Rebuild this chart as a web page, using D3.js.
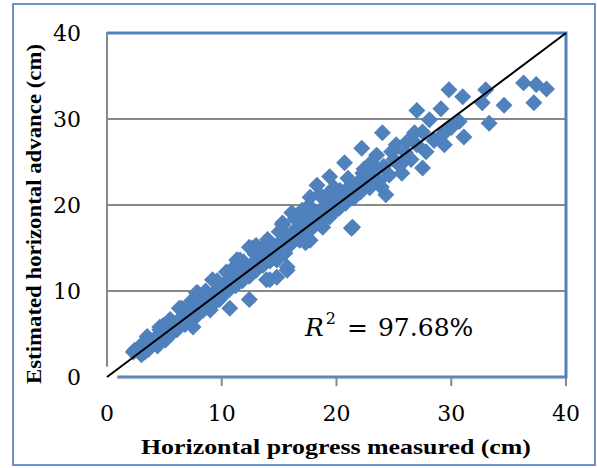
<!DOCTYPE html>
<html>
<head>
<meta charset="utf-8">
<script src="https://cdn.jsdelivr.net/npm/d3@7"></script>
<style>
  body { margin: 0; background: #fff; }
  svg { display: block; }
</style>
</head>
<body>
<div id="chart"></div>
<script>
// measured (x) vs estimated (y) horizontal advance, cm
const measured = [
  36.3, 37.4, 38.3, 37.2, 34.6, 33.0, 32.7, 33.3, 29.8, 31.0, 29.1, 27.0, 30.7, 31.1, 29.4, 29.2,
  28.1, 27.5, 27.8, 27.5, 26.8, 25.7, 25.9, 25.2, 24.0, 22.2, 24.3, 23.9, 22.3, 23.0, 20.7, 19.4,
  21.1, 20.3, 18.8, 17.7, 17.0, 16.1, 15.3, 19.4, 18.8, 21.3, 17.7, 16.8, 15.5, 15.7, 13.9, 14.8,
  13.6, 12.7, 11.4, 10.4, 9.6, 12.4, 10.7, 7.9, 6.5, 7.5, 4.9, 3.5, 2.4, 3.3, 9.0, 9.8,
  2.3, 3.5, 4.6, 6.3, 7.8, 9.2, 11.6, 13.0, 14.8, 15.7,
  18.3, 19.4, 17.7, 15.3, 15.7, 17.3, 12.4, 13.6, 14.2, 11.3, 21.4,
  2.8, 3.0, 3.6, 3.9, 4.2, 4.4, 4.8, 5.1, 5.3, 5.6, 5.9, 6.1, 6.4, 6.8, 7.0, 7.3,
  7.6, 7.9, 8.1, 8.4, 8.7, 8.9, 9.2, 9.5, 9.8, 10.0, 10.3, 10.6, 10.9, 11.2, 11.5, 11.8,
  12.1, 12.4, 12.7, 13.0, 13.3, 13.6, 13.9, 14.2, 14.5, 14.8, 15.1, 15.4, 15.7, 16.0, 16.3, 16.6,
  16.9, 17.2, 17.5, 17.8, 18.1, 18.4, 18.7, 19.0, 19.3, 19.6, 19.9, 20.2, 20.5, 20.8, 21.1, 21.5,
  21.8, 22.1, 22.5, 22.9, 23.3, 23.7, 24.1, 24.6, 25.0, 25.5, 26.0, 26.5, 27.0, 28.5, 30.0, 29.5,
  26.2, 24.8, 23.5, 22.4, 21.0, 19.8, 18.5, 17.6, 16.4, 15.0, 14.0, 12.9, 11.9, 10.8, 9.6, 8.6,
  7.4, 6.7, 5.5, 4.6, 3.2
];
const estimated = [
  34.2, 34.0, 33.5, 31.9, 31.6, 33.4, 31.9, 29.5, 33.4, 32.6, 31.2, 31.0, 29.7, 27.9, 27.0, 28.1,
  29.9, 28.5, 26.2, 24.3, 28.4, 23.7, 25.2, 27.0, 28.4, 26.6, 21.2, 22.1, 23.7, 24.9, 24.9, 23.3,
  22.1, 21.7, 20.9, 20.9, 19.4, 19.1, 17.7, 18.6, 17.4, 17.3, 15.9, 15.9, 14.4, 12.4, 11.3, 13.6,
  15.1, 15.0, 13.6, 12.2, 11.0, 9.0, 8.0, 9.8, 8.0, 5.8, 6.0, 4.7, 3.1, 2.9, 7.8, 9.0,
  2.9, 4.3, 5.8, 8.0, 9.8, 11.3, 13.6, 15.3, 11.6, 12.8,
  22.3, 21.5, 18.6, 17.9, 15.1, 15.6, 15.1, 14.0, 11.3, 13.6, 17.4,
  3.4, 2.6, 3.2, 3.8, 4.5, 3.6, 4.9, 4.3, 5.6, 5.0, 6.2, 5.5, 6.8, 6.1, 7.4, 6.6,
  7.9, 7.2, 8.6, 7.8, 9.1, 8.3, 9.6, 8.8, 10.3, 9.4, 10.9, 10.1, 11.4, 10.6, 12.0, 11.2,
  12.6, 11.7, 13.2, 12.4, 13.9, 13.0, 14.4, 13.5, 15.1, 14.2, 15.7, 14.8, 16.4, 15.4, 17.0, 16.1,
  17.6, 16.7, 18.3, 17.2, 18.9, 17.9, 19.5, 18.4, 20.1, 19.0, 20.7, 19.6, 21.2, 20.2, 21.9, 20.8,
  22.5, 21.5, 23.2, 22.0, 23.8, 22.8, 24.5, 23.5, 25.3, 24.6, 26.1, 25.3, 27.0, 27.5, 29.0, 28.6,
  27.4, 26.2, 25.8, 24.2, 23.1, 22.0, 21.2, 19.9, 18.4, 16.9, 16.0, 14.3, 13.4, 12.4, 11.2, 10.0,
  8.9, 7.9, 6.7, 5.5, 4.0
];
const xTicks = [0, 10, 20, 30, 40];
const yTicks = [0, 10, 20, 30, 40];
const fitLine = [[0, 0], [40, 40]];
const r2Label = "97.68%";

const W = 597, H = 468;
const margin = { left: 107, top: 33, right: W - 566, bottom: H - 377 };
const blue = "#4f81bd";
const grey = "#898989";
const serif = "'Liberation Serif', 'DejaVu Serif', serif";
const tickFont = "'DejaVu Serif', serif";

const svg = d3.select("#chart").append("svg")
  .attr("width", W)
  .attr("height", H);

// outer chart border
svg.append("rect")
  .attr("x", 13).attr("y", 4)
  .attr("width", 582).attr("height", 461)
  .attr("fill", "none")
  .attr("stroke", "#6a93c8")
  .attr("stroke-width", 2);

const x = d3.scaleLinear().domain([0, 40]).range([margin.left, W - margin.right]);
const y = d3.scaleLinear().domain([0, 40]).range([H - margin.bottom, margin.top]);

// gridlines
svg.append("g")
  .selectAll("line")
  .data(yTicks.filter(t => t > 0 && t < 40))
  .enter().append("line")
  .attr("x1", x(0)).attr("x2", x(40))
  .attr("y1", d => y(d)).attr("y2", d => y(d))
  .attr("stroke", grey)
  .attr("stroke-width", 2);

// plot frame: blue top/right/bottom, gray axis lines on left and bottom
svg.append("path")
  .attr("d", `M${x(0)},${y(40)} H${x(40)} V${y(0)} H${x(0.9)}`)
  .attr("fill", "none")
  .attr("stroke", blue)
  .attr("stroke-width", 3);

svg.append("line")
  .attr("x1", x(0)).attr("x2", x(0))
  .attr("y1", y(40) - 1).attr("y2", y(1.2))
  .attr("stroke", grey).attr("stroke-width", 2);

svg.append("line")
  .attr("x1", x(0.9)).attr("x2", x(40))
  .attr("y1", y(0) + 0.5).attr("y2", y(0) + 0.5)
  .attr("stroke", grey).attr("stroke-width", 1.5);

// x tick marks
svg.append("g")
  .selectAll("line")
  .data(xTicks.filter(t => t > 0))
  .enter().append("line")
  .attr("x1", d => x(d)).attr("x2", d => x(d))
  .attr("y1", y(0) + 1).attr("y2", y(0) + 9)
  .attr("stroke", grey).attr("stroke-width", 2);

// tick labels
svg.append("g")
  .selectAll("text")
  .data(yTicks)
  .enter().append("text")
  .attr("x", 81)
  .attr("y", d => y(d))
  .attr("dy", "0.36em")
  .attr("text-anchor", "end")
  .style("font-family", tickFont)
  .style("font-size", "22px")
  .text(d => d);

svg.append("g")
  .selectAll("text")
  .data(xTicks)
  .enter().append("text")
  .attr("x", d => x(d))
  .attr("y", 421)
  .attr("text-anchor", "middle")
  .style("font-family", tickFont)
  .style("font-size", "22px")
  .text(d => d);

// points
const points = measured.map((m, i) => ({ m: m, e: estimated[i] }));
svg.append("g")
  .selectAll("path")
  .data(points)
  .enter().append("path")
  .attr("d", d3.symbol(d3.symbolSquare, 144))
  .attr("transform", d => `translate(${x(d.m)},${y(d.e)}) rotate(45)`)
  .attr("fill", blue);

// 1:1 line
svg.append("path")
  .datum(fitLine)
  .attr("fill", "none")
  .attr("stroke", "#000")
  .attr("stroke-width", 2)
  .attr("d", d3.line().x(d => x(d[0])).y(d => y(d[1])));

// R² annotation
const r2 = svg.append("text")
  .attr("x", 305)
  .attr("y", 336)
  .style("font-family", tickFont)
  .style("font-size", "25px");
r2.append("tspan").style("font-style", "italic").text("R");
r2.append("tspan").attr("dy", -12).attr("dx", 2).style("font-size", "16px").text("2");
r2.append("tspan").attr("dy", 12).attr("dx", 11).text("=");
r2.append("tspan").attr("dx", 10).text(r2Label);

// axis titles
svg.append("text")
  .attr("x", 336)
  .attr("y", 454)
  .attr("text-anchor", "middle")
  .attr("textLength", 390)
  .attr("lengthAdjust", "spacingAndGlyphs")
  .style("font-family", serif)
  .style("font-weight", "bold")
  .style("font-size", "22px")
  .text("Horizontal progress measured (cm)");

svg.append("text")
  .attr("transform", "translate(41,214) rotate(-90)")
  .attr("text-anchor", "middle")
  .attr("textLength", 340)
  .attr("lengthAdjust", "spacingAndGlyphs")
  .style("font-family", serif)
  .style("font-weight", "bold")
  .style("font-size", "21px")
  .text("Estimated horizontal advance (cm)");
</script>
</body>
</html>
